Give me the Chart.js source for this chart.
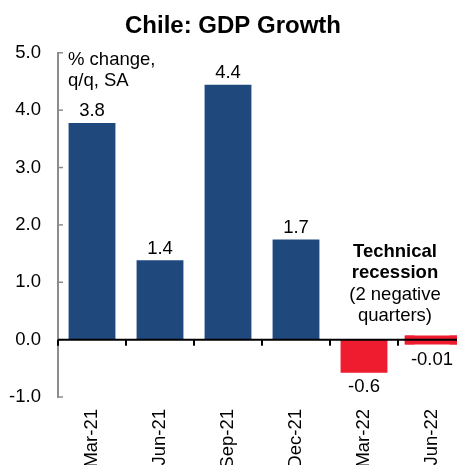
<!DOCTYPE html>
<html>
<head>
<meta charset="utf-8">
<script src="https://cdn.jsdelivr.net/npm/chart.js@4.4.6/dist/chart.umd.min.js"></script>
<style>
  html, body { margin: 0; padding: 0; background: #fff; overflow: hidden; }
  #wrap { width: 470px; height: 480px; position: relative; }
</style>
</head>
<body>
<div id="wrap"><canvas id="grafica" width="470" height="480"></canvas></div>
<script>
const trimestres = ["Mar-21", "Jun-21", "Sep-21", "Dec-21", "Mar-22", "Jun-22"];
const crecimiento = [3.77, 1.38, 4.44, 1.74, -0.57, -0.01];
const etiquetas = ["3.8", "1.4", "4.4", "1.7", "-0.6", "-0.01"];
const colores = ["#1f497c", "#1f497c", "#1f497c", "#1f497c", "#ee1c2e", "#ee1c2e"];
const notaUnidades = ["% change,", "q/q, SA"];
const notaRecesion = ["Technical", "recession", "(2 negative", "quarters)"];

const fuente = "'Liberation Sans', Arial, sans-serif";
const tam = 18.5;

// la barra casi nula se dibuja como una pastilla roja
const esMinima = ctx => Math.abs(crecimiento[ctx.dataIndex]) < 0.05;

// ejes, linea cero y textos dibujados a mano
const extras = {
  id: 'extras',
  afterDatasetsDraw(chart) {
    const ctx = chart.ctx;
    const x = chart.scales.x;
    const y = chart.scales.y;
    const area = chart.chartArea;
    ctx.save();

    // marcas del eje y hacia dentro
    ctx.strokeStyle = '#8c8c8c';
    ctx.lineWidth = 1.5;
    y.ticks.forEach(t => {
      const py = y.getPixelForValue(t.value);
      ctx.beginPath();
      ctx.moveTo(area.left, py);
      ctx.lineTo(area.left + 5, py);
      ctx.stroke();
    });

    // linea cero
    const y0 = y.getPixelForValue(0);
    ctx.strokeStyle = '#000';
    ctx.lineWidth = 2;
    ctx.beginPath();
    ctx.moveTo(area.left, y0);
    ctx.lineTo(area.right, y0);
    ctx.stroke();
    for (let i = 0; i <= trimestres.length; i++) {
      const px = Math.round(x.getPixelForValue(i - 0.5));
      ctx.beginPath();
      ctx.moveTo(px, y0);
      ctx.lineTo(px, y0 + 6);
      ctx.stroke();
    }

    // etiquetas de valores
    ctx.fillStyle = '#000';
    ctx.font = tam + 'px ' + fuente;
    ctx.textAlign = 'center';
    ctx.textBaseline = 'middle';
    const meta = chart.getDatasetMeta(0);
    meta.data.forEach((bar, i) => {
      const v = crecimiento[i];
      const py = v >= 0 ? bar.y - 12 : Math.max(bar.y, y0 + 5) + 15;
      ctx.fillText(etiquetas[i], bar.x, py);
    });

    // nota de unidades
    ctx.textAlign = 'left';
    ctx.fillText(notaUnidades[0], 68, 60);
    ctx.fillText(notaUnidades[1], 68, 81);

    // nota de recesion
    ctx.textAlign = 'center';
    ctx.font = 'bold ' + tam + 'px ' + fuente;
    ctx.fillText(notaRecesion[0], 395, 252);
    ctx.fillText(notaRecesion[1], 395, 273);
    ctx.font = tam + 'px ' + fuente;
    ctx.fillText(notaRecesion[2], 395, 295);
    ctx.fillText(notaRecesion[3], 395, 316);
    ctx.restore();
  }
};

new Chart(document.getElementById('grafica'), {
  type: 'bar',
  data: {
    labels: trimestres,
    datasets: [{
      data: crecimiento,
      backgroundColor: colores,
      borderColor: colores,
      borderWidth: ctx => esMinima(ctx) ? 1 : 0,
      barPercentage: 0.68,
      categoryPercentage: 1,
      inflateAmount: ctx => esMinima(ctx) ? 4.5 : 0.3,
      borderRadius: ctx => esMinima(ctx) ? 5 : 0,
      borderSkipped: false
    }]
  },
  options: {
    responsive: false,
    animation: false,
    layout: { padding: { left: 0, right: 4, top: 0, bottom: 0 } },
    plugins: {
      legend: { display: false },
      tooltip: { enabled: false },
      title: {
        display: true,
        text: 'Chile: GDP Growth',
        color: '#000',
        font: { family: fuente, size: 24, weight: 'bold' },
        padding: { top: 12, bottom: 12 }
      }
    },
    scales: {
      x: {
        offset: true,
        grid: { display: false, drawTicks: false },
        border: { display: false },
        ticks: {
          color: '#000',
          font: { family: fuente, size: tam },
          minRotation: 90,
          maxRotation: 90,
          padding: 12
        },
        afterFit(scale) { scale.height = 83; }
      },
      y: {
        min: -1,
        max: 5,
        grid: { display: false, drawTicks: false },
        border: { display: true, color: '#8c8c8c', width: 2 },
        ticks: {
          stepSize: 1,
          color: '#000',
          font: { family: fuente, size: tam },
          padding: 17,
          callback: v => Number(v).toFixed(1)
        },
        afterFit(scale) { scale.width = 58; }
      }
    }
  },
  plugins: [extras]
});
</script>
</body>
</html>
